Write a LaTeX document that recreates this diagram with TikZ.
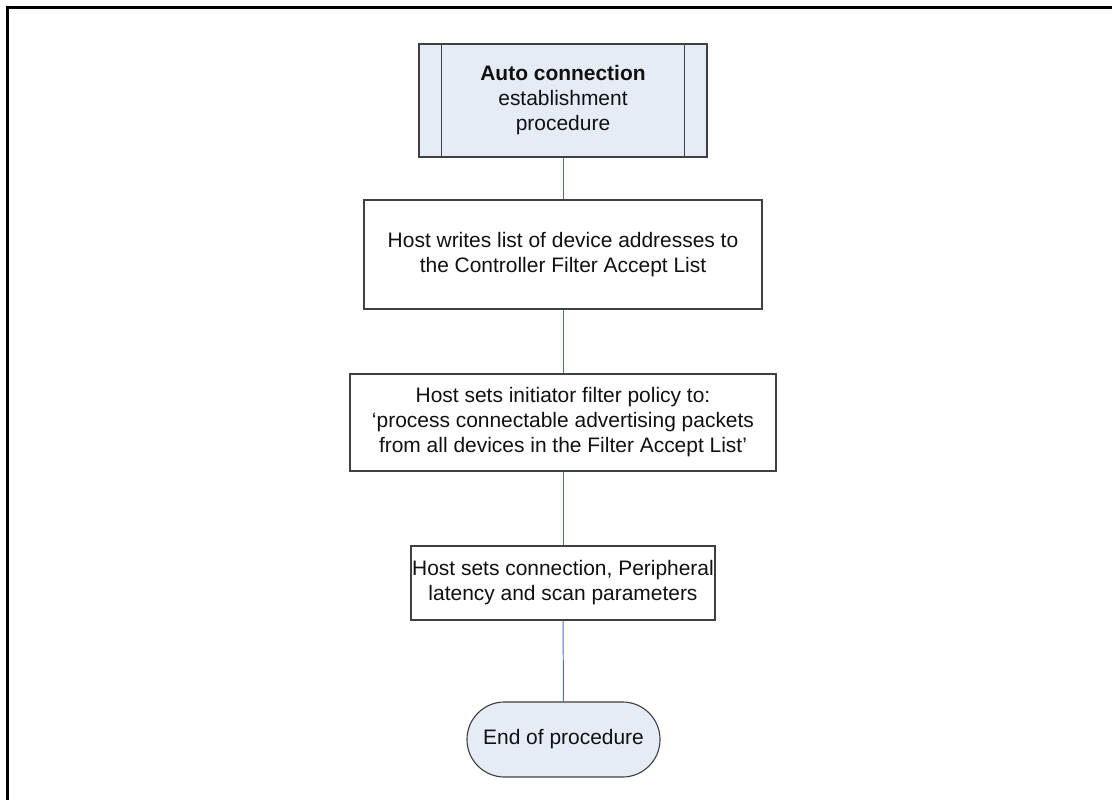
\documentclass[tikz,border=0pt]{standalone}
\usepackage{fontspec}
\setmainfont{Liberation Sans}
\usetikzlibrary{positioning,calc,shapes.misc}
\definecolor{boxfill}{HTML}{E6ECF6}
\definecolor{boxline}{HTML}{404040}
\definecolor{wire}{HTML}{4A6FB5}
\definecolor{ink}{HTML}{111111}
\newcommand{\BarIn}{23}

\begin{document}
\begin{tikzpicture}[x=0.025cm, y=-0.025cm, ink,
    font=\fontsize{14.9}{17.8}\selectfont,
    proc/.style={draw=boxline, line width=0.9pt, fill=white, align=center, inner sep=0pt},
    subproc/.style={proc, fill=boxfill},
    term/.style={draw=boxline, line width=0.8pt, fill=boxfill, rounded rectangle, align=center, inner sep=0pt},
    link/.style={draw=wire, line width=0.7pt},
    frame/.style={draw=black, line width=1.6pt},
  ]
% --- Page and frame ----------------------------------------------------------
\useasboundingbox (0,0) rectangle (1112,800);
\draw[frame] (1112,7.5) -- (7.5,7.5) -- (7.5,800);

% --- Steps -------------------------------------------------------------------
\node[subproc, minimum width=7.2cm, minimum height=2.825cm] (start) at (563,100.5)
  {\textbf{Auto connection}\\establishment\\procedure};
\node[proc, minimum width=9.95cm, minimum height=2.725cm] (hostw) at (563,254.5)
  {Host writes list of device addresses to\\the Controller Filter Accept List};
\node[proc, minimum width=10.65cm, minimum height=2.425cm] (policy) at (563,422.5)
  {Host sets initiator filter policy to:\\‘process connectable advertising packets\\from all devices in the Filter Accept List’};
\node[proc, minimum width=7.6cm, minimum height=1.85cm] (params) at (563,583)
  {Host sets connection, Peripheral\\latency and scan parameters};
\node[term, minimum width=4.825cm, minimum height=1.875cm] (endp) at (563.5,739.5)
  {End of procedure};

% side bars of the predefined process box
\draw[boxline, line width=0.9pt] ($(start.north west)+(\BarIn,0)$) -- ($(start.south west)+(\BarIn,0)$);
\draw[boxline, line width=0.9pt] ($(start.north east)+(-\BarIn,0)$) -- ($(start.south east)+(-\BarIn,0)$);

% --- Connectors --------------------------------------------------------------
\draw[link] (start) -- (hostw);
\draw[link] (hostw) -- (policy);
\draw[link] (policy) -- (params);
\draw[link] (params) -- (endp);
\end{tikzpicture}
\end{document}
